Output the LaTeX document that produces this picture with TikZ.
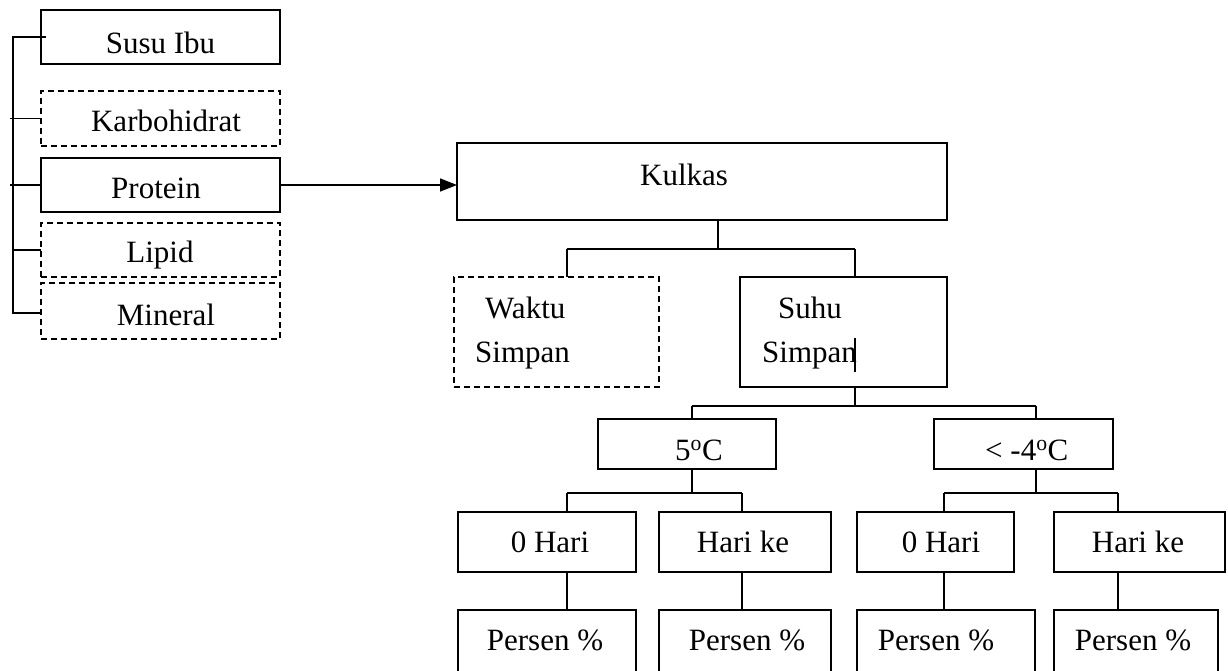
\documentclass[tikz,border=0pt]{standalone}
\usepackage{fontspec}
\setmainfont{Liberation Serif}
\usetikzlibrary{arrows.meta}
\begin{document}
\begin{tikzpicture}[x=1pt,y=-1pt,
  box/.style={draw, line width=1.5pt, inner sep=0pt, outer sep=0pt},
  dbox/.style={box, dash pattern=on 6pt off 4pt},
  txt/.style={inner sep=0pt, anchor=base, font=\fontsize{31}{37}\selectfont},
  txtw/.style={txt, anchor=base west},
  conn/.style={line width=1.5pt}]
\useasboundingbox (0,0) rectangle (1228,670);
\clip (0,0) rectangle (1228,670);
% left column
\node[box,  minimum width=239pt, minimum height=54pt] (susu)  at (160.5,37)  {};
\node[dbox, minimum width=239pt, minimum height=55pt] (karbo) at (160.5,118.5) {};
\node[box,  minimum width=239pt, minimum height=54pt] (prot)  at (160.5,185) {};
\node[dbox, minimum width=239pt, minimum height=54pt] (lipid) at (160.5,250) {};
\node[dbox, minimum width=239pt, minimum height=56pt] (miner) at (160.5,311) {};
\node[txt] (tsusu)  at (160.5,53)  {Susu Ibu};
\node[txt] (tkarbo) at (166,131)   {Karbohidrat};
\node[txt] (tprot)  at (156,198)   {Protein};
\node[txt] (tlipid) at (160,262)   {Lipid};
\node[txt] (tminer) at (166,325)   {Mineral};
\coordinate (sp) at (13,37);
\coordinate (spb) at (13,313);
\coordinate (mt) at (41,313);
\draw[conn] (susu.west -| 46,0) -- (susu.west -| sp) -- (spb) -- (mt);
\draw[conn] (karbo.west -| 10,0) -- (karbo.west);
\draw[conn] (prot.west -| 10,0) -- (prot.west);
\draw[conn] (lipid.west -| sp) -- (lipid.west);
% Kulkas
\node[box, minimum width=490pt, minimum height=77pt] (kulkas) at (702,181.5) {};
\node[txtw] (tkulkas) at (640,185) {Kulkas};
\draw[conn, -{Triangle[length=17pt,width=13pt]}] (prot.east) -- (kulkas.west |- prot.east);
% second level
\node[dbox, minimum width=205pt, minimum height=110pt] (waktu) at (556.5,332) {};
\node[box,  minimum width=207pt, minimum height=110pt] (suhu)  at (843.5,332) {};
\node[txtw] (tw1) at (485,318) {Waktu};
\node[txtw] (tw2) at (475,362) {Simpan};
\node[txtw] (ts1) at (778,318) {Suhu};
\node[txtw] (ts2) at (762,362) {Simpan};
\draw[conn] (855,338) -- (855,372);
\coordinate (k1) at (718,249);
\coordinate (k2) at (567,249);
\coordinate (k3) at (855,249);
\draw[conn] (kulkas.south -| k1) -- (k1);
\draw[conn] (k2) -- (k3);
\draw[conn] (k2) -- (waktu.north -| k2);
\draw[conn] (k3) -- (suhu.north -| k3);
% temperatures
\node[box, minimum width=178pt, minimum height=50pt] (c5) at (687,444) {};
\node[box, minimum width=179pt, minimum height=50pt] (c4) at (1023.5,444) {};
\node[txtw] (tc5) at (675,460) {5\textsuperscript{o}C};
\node[txtw] (tc4) at (985,460) {<~-4\textsuperscript{o}C};
\coordinate (s1) at (855,406);
\coordinate (s2) at (692,406);
\coordinate (s3) at (1036,406);
\draw[conn] (suhu.south -| s1) -- (s1);
\draw[conn] (s2) -- (s3);
\draw[conn] (s2) -- (c5.north -| s2);
\draw[conn] (s3) -- (c4.north -| s3);
% days
\node[box, minimum width=178pt, minimum height=60pt] (h1) at (547,542) {};
\node[box, minimum width=172pt, minimum height=60pt] (h2) at (745,542) {};
\node[box, minimum width=157pt, minimum height=60pt] (h3) at (935.5,542) {};
\node[box, minimum width=171pt, minimum height=60pt] (h4) at (1139.5,542) {};
\node[txt] (th1) at (550,552) {0 Hari};
\node[txt] (th2) at (743,552) {Hari ke};
\node[txt] (th3) at (941,552) {0 Hari};
\node[txt] (th4) at (1138,552) {Hari ke};
\coordinate (a1) at (567,493);
\coordinate (a2) at (742,493);
\coordinate (b1) at (944,493);
\coordinate (b2) at (1118,493);
\draw[conn] (c5.south -| s2) -- (s2 |- a1);
\draw[conn] (a1) -- (a2);
\draw[conn] (a1) -- (h1.north -| a1);
\draw[conn] (a2) -- (h2.north -| a2);
\draw[conn] (c4.south -| s3) -- (s3 |- b1);
\draw[conn] (b1) -- (b2);
\draw[conn] (b1) -- (h3.north -| b1);
\draw[conn] (b2) -- (h4.north -| b2);
% percent
\node[box, minimum width=178pt, minimum height=70pt] (p1) at (547,645) {};
\node[box, minimum width=172pt, minimum height=70pt] (p2) at (745,645) {};
\node[box, minimum width=178pt, minimum height=70pt] (p3) at (946,645) {};
\node[box, minimum width=164pt, minimum height=70pt] (p4) at (1136,645) {};
\node[txt] (tp1) at (545,650) {Persen \%};
\node[txt] (tp2) at (747,650) {Persen \%};
\node[txt] (tp3) at (936,650) {Persen \%};
\node[txt] (tp4) at (1133,650) {Persen \%};
\draw[conn] (h1.south -| a1) -- (p1.north -| a1);
\draw[conn] (h2.south -| a2) -- (p2.north -| a2);
\draw[conn] (h3.south -| b1) -- (p3.north -| b1);
\draw[conn] (h4.south -| b2) -- (p4.north -| b2);
\end{tikzpicture}
\end{document}
